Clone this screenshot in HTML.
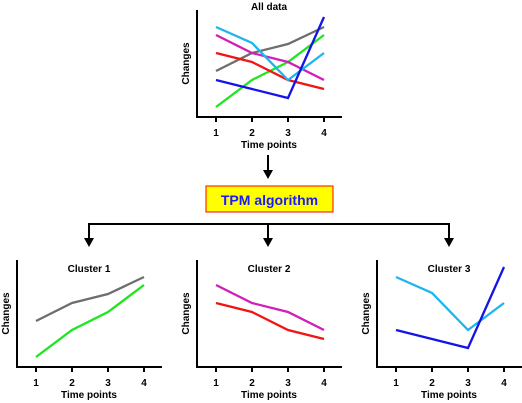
<!DOCTYPE html>
<html><head><meta charset="utf-8"><style>
html,body{margin:0;padding:0;background:#fff;}
svg{display:block;font-family:"Liberation Sans",Arial,sans-serif;font-weight:bold;}
</style></head><body>
<svg id="fig" width="522" height="403" viewBox="0 0 522 403" xmlns="http://www.w3.org/2000/svg">
<g id="flow">
<line x1="268" y1="155" x2="268" y2="172" stroke="#000" stroke-width="2"/>
<path d="M263,170 L273,170 L268,179 Z" fill="#000"/>
<rect x="206" y="186" width="127" height="26" fill="#ffff00" stroke="#ff0000" stroke-width="1"/>
<text x="269.5" y="205" text-anchor="middle" font-size="14" fill="#1a1aff">TPM algorithm</text>
<polyline points="89,240 89,224 449,224 449,240" fill="none" stroke="#000" stroke-width="2"/>
<line x1="268" y1="224" x2="268" y2="240" stroke="#000" stroke-width="2"/>
<path d="M84,238 L94,238 L89,247 Z" fill="#000"/>
<path d="M263,238 L273,238 L268,247 Z" fill="#000"/>
<path d="M444,238 L454,238 L449,247 Z" fill="#000"/>
</g>
</svg>
<script>
const timeLabels = ["1","2","3","4"];
const cyanVals = [90,74,37,64];
const magentaVals = [82,64,55,37];
const redVals = [64,55,37,28];
const grayVals = [46,64,73,90];
const greenVals = [10,37,55,82];
const blueVals = [37,28,19,100];
const seriesColors = {cyan:"#1eb4f0",magenta:"#d21eb9",red:"#f01414",gray:"#6e6e6e",green:"#1ee61e",blue:"#1414e6"};
const NS="http://www.w3.org/2000/svg";
const svg=document.getElementById('fig');
function mk(tag,attrs,parent){const e=document.createElementNS(NS,tag);for(const k in attrs)e.setAttribute(k,attrs[k]);parent.appendChild(e);return e;}
function panel(id,title,ax,axBottom,titleY,series){
  const g=mk('g',{},svg);
  
  
  const top=axBottom-107, right=ax+145;
  const xs=i=>ax+19+i*36;
  const ys=v=>axBottom-v;
  const yAxis=mk('line',{x1:ax,y1:top,x2:ax,y2:axBottom,stroke:'#000','stroke-width':2},g);
  
  
  const xAxis=mk('line',{x1:ax-1,y1:axBottom,x2:right,y2:axBottom,stroke:'#000','stroke-width':2},g);
  
  
  timeLabels.forEach((lab,i)=>{
    const t=mk('line',{x1:xs(i),y1:axBottom,x2:xs(i),y2:axBottom+5,stroke:'#000','stroke-width':2},g);
    
    
    const tx=mk('text',{x:xs(i),y:axBottom+19,'text-anchor':'middle','font-size':10,fill:'#000'},g);
    tx.textContent=lab;
    
    
  });
  const xt=mk('text',{x:ax+72,y:axBottom+31,'text-anchor':'middle','font-size':10,fill:'#000'},g);
  xt.textContent='Time points';
  
  
  const cy=(top+axBottom)/2;
  const yt=mk('text',{x:ax-8,y:cy,'text-anchor':'middle','font-size':10,fill:'#000',transform:`rotate(-90 ${ax-8} ${cy})`},g);
  yt.textContent='Changes';
  
  
  const tt=mk('text',{x:ax+72,y:titleY,'text-anchor':'middle','font-size':10,fill:'#000'},g);
  tt.textContent=title;
  
  
  series.forEach(([name,vals])=>{
    const p=mk('polyline',{points:vals.map((v,i)=>xs(i)+','+ys(v)).join(' '),fill:'none',stroke:seriesColors[name],'stroke-width':2.3},g);
    
    
  });
}
panel('all-data-chart','All data',197,117,10,[['gray',grayVals],['green',greenVals],['red',redVals],['magenta',magentaVals],['cyan',cyanVals],['blue',blueVals]]);
panel('cluster-1-chart','Cluster 1',17,367,272,[['gray',grayVals],['green',greenVals]]);
panel('cluster-2-chart','Cluster 2',197,367,272,[['magenta',magentaVals],['red',redVals]]);
panel('cluster-3-chart','Cluster 3',377,367,272,[['cyan',cyanVals],['blue',blueVals]]);
</script>
</body></html>
